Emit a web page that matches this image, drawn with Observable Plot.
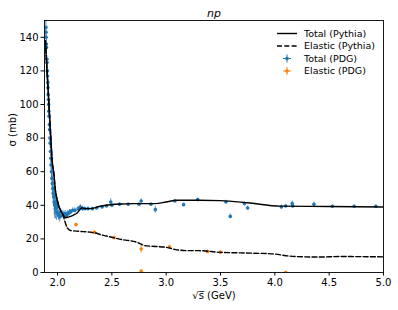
<!DOCTYPE html>
<html><head><meta charset="utf-8">
<script src="https://cdn.jsdelivr.net/npm/d3@7"></script>
<script src="https://cdn.jsdelivr.net/npm/@observablehq/plot@0.6"></script>
<style>body{margin:0;background:#fff}</style>
</head><body><div id="chart"></div>
<script>
const xTicks = [2.0, 2.5, 3.0, 3.5, 4.0, 4.5, 5.0];
const yTicks = [0, 20, 40, 60, 80, 100, 120, 140];

const pythiaX =     [1.888,1.9,1.92,1.942,1.95,1.966,1.98,1.997,2.027,2.05,2.073,2.1,2.12,2.15,2.18,2.2,2.226,2.25,2.3,2.39,2.5,2.6,2.7,2.9,3.0,3.1,3.3,3.5,3.75,4.05,4.5,5.0];
const pythiaTotal = [138,124,101,76,67,59,49,43,37,34.5,32.6,33,33.4,34.3,35.4,37,38.5,38,38,39.4,40.5,40.8,41,41,42,43,43,42.8,41.5,39.5,39.3,39];

const elasticX =      [1.888,1.9,1.92,1.942,1.95,1.966,1.98,1.997,2.027,2.05,2.065,2.09,2.12,2.2,2.3,2.35,2.4,2.5,2.6,2.7,2.75,2.8,2.9,3.0,3.1,3.2,3.3,3.5,3.6,3.8,4.0,4.1,4.2,4.4,4.6,5.0];
const pythiaElastic = [138,124,101,76,67,59,49,43,37,34.5,31,26.5,25,24.5,24,23.5,22.5,21,19.5,18.5,17.5,16,15.5,15,13.5,13,13,12,11.8,11.5,11,10,9.5,9.2,9.5,9.3];

const pdgTotalX =   [1.893,1.894,1.895,1.897,1.898,1.902,1.903,1.906,1.908,1.910,1.912,1.914,1.916,1.918,1.920,1.922,1.925,1.927,1.930,1.932,1.935,1.938,1.940,1.944,1.948,1.952,1.956,1.960,1.965,1.970,1.975,1.980,1.985,1.990,1.995,2.000,2.005,2.010,2.020,2.030,2.040,2.050,2.060,2.070,2.080,2.090,2.100,2.110,2.120,2.140,2.160,2.190,2.210,2.230,2.250,2.280,2.32,2.36,2.41,2.45,2.49,2.50,2.57,2.65,2.75,2.77,2.86,2.90,3.08,3.16,3.29,3.55,3.59,3.72,3.75,4.06,4.10,4.16,4.165,4.36,4.53,4.73,4.93];
const pdgTotalY =   [146,143,140,136,134,127,125,120,117,113,110,106,103,100,96,93,88,85,80,77,72,68,64,60,56,53,50,47,45,42,40,38,41,36,42,39,35,34,33,36,34,35,34,35,34,35,35,36,36,37,37,38,39,38,38,38,38,38.4,39,39.6,42,40,40.6,40.6,40.6,42.6,40.6,37.4,42.6,40.4,43.4,42,33.4,41,38.4,39,39.6,41,39.6,40.6,39.4,39.4,39.4];
const pdgTotalErr = [4,3,3,3,3,2,2,2,2,2,2,2,2,2,2,2,3,3,3,3,3,3,4,5,5,6,6,7,6,8,8,6,4,5,3,4,3,3,3,2,2,2,2,2,2,2,1.5,1.5,1.5,1.5,1.5,1.5,1.5,1.5,1,1,0.8,0.8,0.8,0.8,2,0.8,0.8,0.8,0.8,1.2,0.8,2,0.8,0.8,0.8,1,1.5,1.2,1.2,1.2,0.8,1.5,1.2,1.2,0.8,0.8,0.8];

const pdgElX =   [2.17,2.34,2.52,2.77,2.77,3.03,3.38,3.50,4.10];
const pdgElY =   [28.5,24,20.7,14,0.8,15.3,12.5,12.1,0];
const pdgElErr = [1,1,1,2.5,0.5,1,0.8,0.8,0.5];

const blue = "#1f77b4", orange = "#ff7f0e";
const pythiaT = pythiaX.map((x,i)=>({x, y: pythiaTotal[i]}));
const pythiaE = elasticX.map((x,i)=>({x, y: pythiaElastic[i]}));
const pdgT = pdgTotalX.map((x,i)=>({x, y: pdgTotalY[i], e: pdgTotalErr[i]}));
const pdgE = pdgElX.map((x,i)=>({x, y: pdgElY[i], e: pdgElErr[i]}));
const xe = 0.006;

const chart = Plot.plot({
  width: 398, height: 310,
  marginLeft: 44, marginRight: 15, marginTop: 20, marginBottom: 38,
  style: {fontFamily: "DejaVu Sans", fontSize: "10px", background: "white", color: "black"},
  x: {domain: [1.88, 5.0], ticks: xTicks, tickFormat: d3.format(".1f"), label: null},
  y: {domain: [0, 150], ticks: yTicks, label: null},
  marks: [
    Plot.ruleX(pdgT, {x: "x", y1: d=>d.y-d.e, y2: d=>d.y+d.e, stroke: blue, strokeWidth: 1, strokeOpacity: 0.75, clip: true}),
    Plot.ruleY(pdgT, {y: "y", x1: d=>d.x-xe, x2: d=>d.x+xe, stroke: blue, strokeWidth: 1, strokeOpacity: 0.75, clip: true}),
    Plot.dot(pdgT, {x: "x", y: "y", r: 1.8, fill: blue, clip: true}),
    Plot.ruleX(pdgE, {x: "x", y1: d=>d.y-d.e, y2: d=>d.y+d.e, stroke: orange, strokeWidth: 1, strokeOpacity: 0.75, clip: true}),
    Plot.ruleY(pdgE, {y: "y", x1: d=>d.x-xe, x2: d=>d.x+xe, stroke: orange, strokeWidth: 1, strokeOpacity: 0.75, clip: true}),
    Plot.dot(pdgE, {x: "x", y: "y", r: 1.8, fill: orange, clip: true}),
    Plot.line(pythiaE, {x: "x", y: "y", stroke: "black", strokeWidth: 1.4, strokeDasharray: "5,2.3", curve: "monotone-x", clip: true}),
    Plot.line(pythiaT, {x: "x", y: "y", stroke: "black", strokeWidth: 1.4, curve: "monotone-x", clip: true}),
    Plot.frame({stroke: "black", strokeWidth: 0.9}),
    Plot.axisX({ticks: xTicks, tickFormat: d3.format(".1f"), tickSize: 3.5, tickPadding: 2.5, label: null}),
    Plot.axisY({ticks: yTicks, tickSize: 3.5, tickPadding: 2.5, label: null}),
    Plot.text(["np"], {text: d=>d, frameAnchor: "top", dy: -11, fontStyle: "italic", fontSize: 11}),
    Plot.text(["\u221As\u0305 (GeV)"], {text: d=>d, frameAnchor: "bottom", dy: 26}),
    Plot.text(["\u03C3 (mb)"], {text: d=>d, frameAnchor: "left", dx: -32, rotate: -90})
  ]
});
document.getElementById("chart").appendChild(chart);

// legend
const svg = d3.select(chart);
const lg = svg.append("g").attr("font-family", "DejaVu Sans").attr("font-size", 9.5).attr("text-anchor", "start");
const entries = [
  {label: "Total (Pythia)", type: "solid", y: 33.5},
  {label: "Elastic (Pythia)", type: "dash", y: 46},
  {label: "Total (PDG)", type: "pt", c: blue, y: 58.5},
  {label: "Elastic (PDG)", type: "pt", c: orange, y: 71}
];
for (const e of entries) {
  if (e.type === "solid" || e.type === "dash") {
    lg.append("line").attr("x1", 277).attr("x2", 297).attr("y1", e.y).attr("y2", e.y)
      .attr("stroke", "black").attr("stroke-width", 1.4)
      .attr("stroke-dasharray", e.type === "dash" ? "5,2.3" : null);
  } else {
    lg.append("line").attr("x1", 283).attr("x2", 291).attr("y1", e.y).attr("y2", e.y).attr("stroke", e.c).attr("stroke-width", 1);
    lg.append("line").attr("x1", 287).attr("x2", 287).attr("y1", e.y-4).attr("y2", e.y+4).attr("stroke", e.c).attr("stroke-width", 1);
    lg.append("circle").attr("cx", 287).attr("cy", e.y).attr("r", 1.8).attr("fill", e.c);
  }
  lg.append("text").attr("x", 304).attr("y", e.y).attr("dy", "0.35em").attr("text-anchor", "start").text(e.label);
}
</script></body></html>
